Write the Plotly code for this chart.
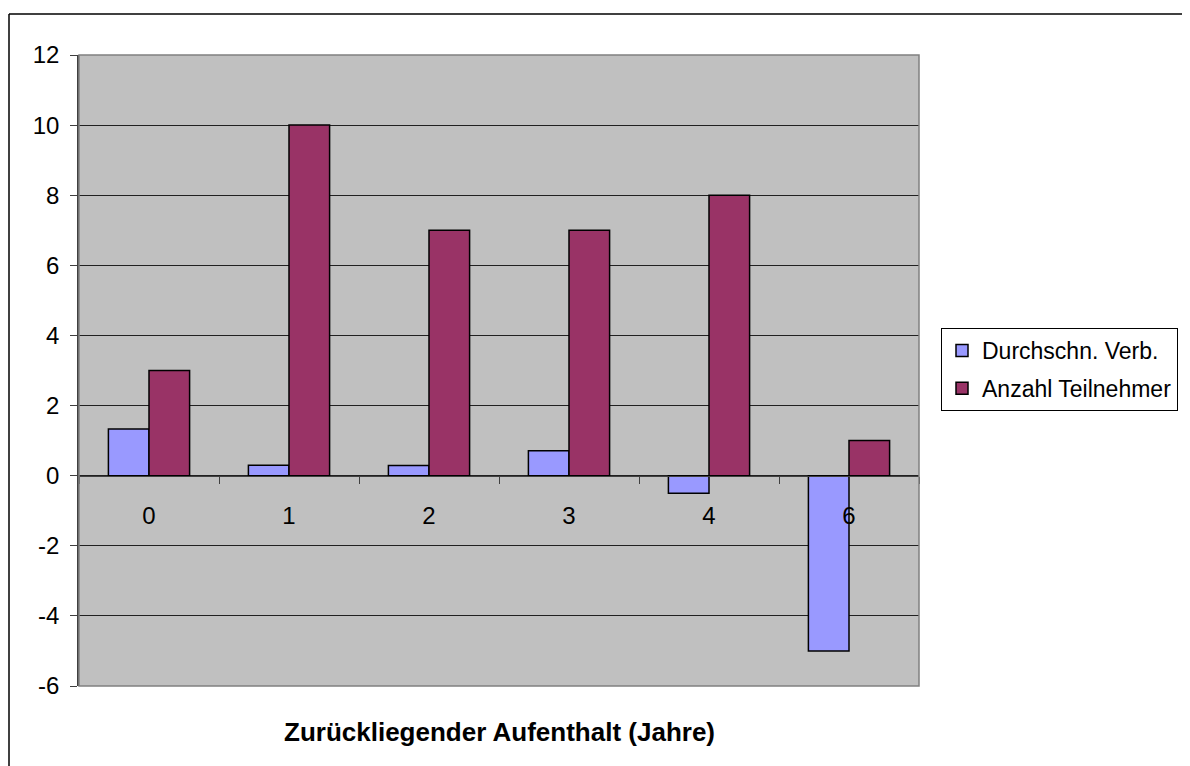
import plotly.graph_objects as go

categories = ["0", "1", "2", "3", "4", "6"]
durchschn_verb = [1.33, 0.3, 0.29, 0.71, -0.5, -5.0]
anzahl_teilnehmer = [3, 10, 7, 7, 8, 1]
y_ticks = [-6, -4, -2, 0, 2, 4, 6, 8, 10, 12]

OFF = 8  # page body margin
L, R, T, B = 79 - OFF, 919 - OFF, 55 - OFF, 686 - OFF
W, H = 1190 - OFF, 766 - OFF
pw, ph = R - L, B - T

def px(x):
    return (x - OFF - L) / pw

def py(y):
    return (B - (y - OFF)) / ph

FS = 24

fig = go.Figure()
fig.add_trace(go.Bar(x=categories, y=durchschn_verb, name="Durchschn. Verb.",
                     marker=dict(color="#9999FF", line=dict(color="black", width=1.5)),
                     legendgroup="a"))
fig.add_trace(go.Bar(x=categories, y=anzahl_teilnehmer, name="Anzahl Teilnehmer",
                     marker=dict(color="#993366", line=dict(color="black", width=1.5)),
                     legendgroup="b"))

ymin, ymax = y_ticks[0], y_ticks[-1]
fig.update_layout(
    width=W, height=H,
    margin=dict(l=L, r=W - R, t=T, b=H - B, pad=0),
    paper_bgcolor="white", plot_bgcolor="#C0C0C0",
    font=dict(family="Liberation Sans, Arial, sans-serif", size=FS, color="black"),
    barmode="group", bargap=0.42, bargroupgap=0,
    showlegend=True,
    legend=dict(x=px(941), y=py(328), xanchor="left", yanchor="top",
                bordercolor="black", borderwidth=1, bgcolor="white",
                font=dict(size=23), tracegroupgap=5, traceorder="grouped",
                itemwidth=30),
    xaxis=dict(type="category", anchor="free",
               position=(0 - ymin) / (ymax - ymin),
               showline=True, linecolor="#404040", linewidth=1,
               ticks="outside", tickson="boundaries", ticklen=7, tickcolor="#404040",
               ticklabelstandoff=19, showgrid=False, tickfont=dict(size=FS)),
    yaxis=dict(range=[ymin, ymax], tickvals=y_ticks, ticktext=[str(v) for v in y_ticks],
               showline=True, linecolor="#404040",
               linewidth=1.5, ticks="outside", ticklen=7, tickcolor="#404040",
               gridcolor="#202020", gridwidth=1, zeroline=False,
               tickfont=dict(size=FS), ticklabelstandoff=6),
)

# plot area border
fig.add_shape(type="rect", xref="paper", yref="paper", x0=0, x1=1, y0=0, y1=1,
              line=dict(color="#808080", width=1.5), layer="above")
# outer chart border (left and top edges visible)
fig.add_shape(type="line", xref="paper", yref="paper",
              x0=px(9), x1=px(9), y0=py(800), y1=py(14),
              line=dict(color="black", width=1.5))
fig.add_shape(type="line", xref="paper", yref="paper",
              x0=px(9), x1=px(1250), y0=py(14), y1=py(14),
              line=dict(color="black", width=1.5))

fig.add_annotation(text="<b>Zurückliegender Aufenthalt (Jahre)</b>", xref="paper", yref="paper",
                   x=px(499), y=py(732), showarrow=False, font=dict(size=26),
                   xanchor="center", yanchor="middle")

fig.write_html("out.html")
